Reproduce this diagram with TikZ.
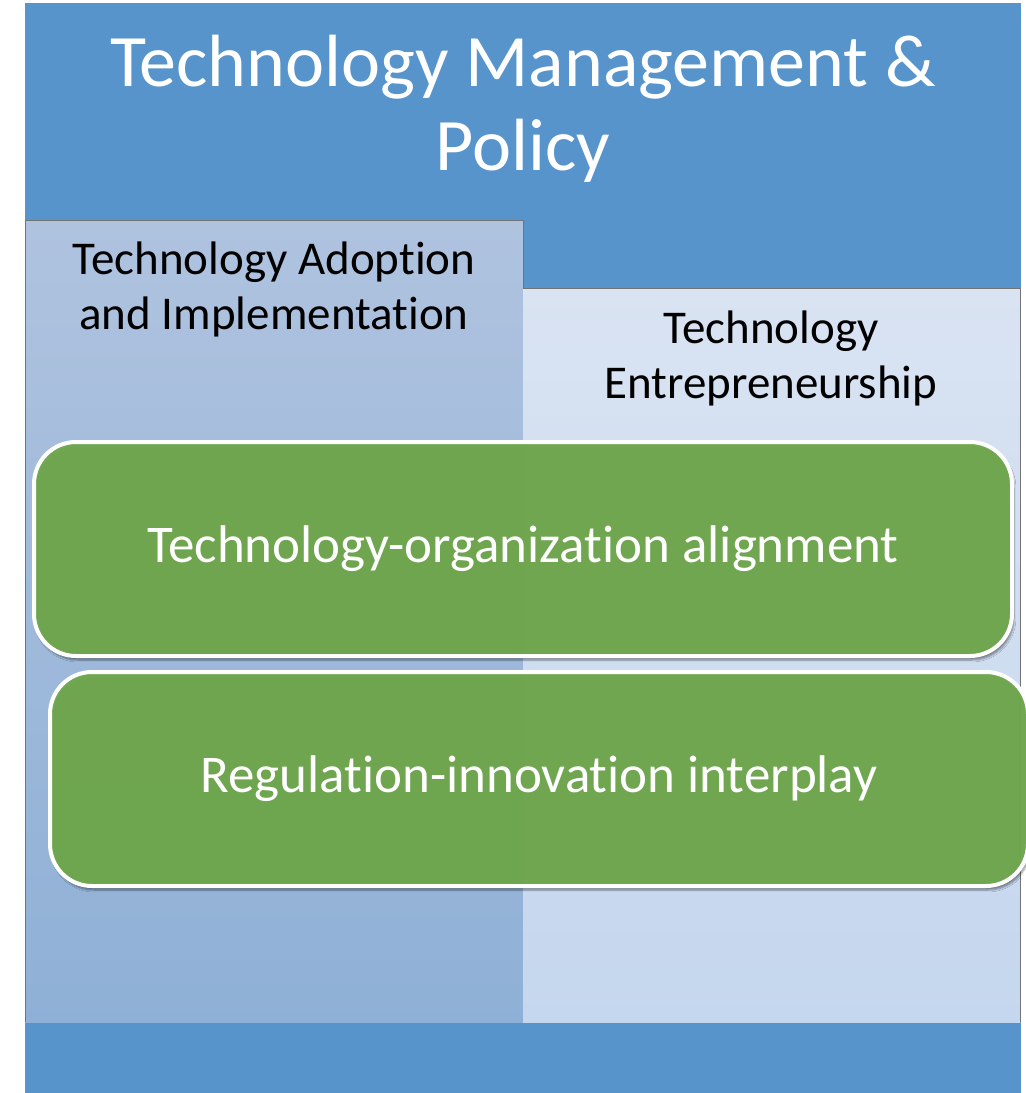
\documentclass[tikz,border=0pt]{standalone}
\usepackage{fontspec}
\setmainfont{Carlito}[RawFeature={-liga,-clig,-dlig,-calt}]
\usetikzlibrary{shadows.blur}
\definecolor{tmblue}{HTML}{5794CB}
\definecolor{adopttop}{HTML}{AFC3DF}
\definecolor{adoptbot}{HTML}{8FB0D6}
\definecolor{entrtop}{HTML}{D9E3F2}
\definecolor{entrbot}{HTML}{C5D7EE}
\definecolor{tmgreen}{HTML}{70A84E}
\begin{document}
\begin{tikzpicture}[x=1pt,y=-1pt,
  panel/.style={draw=black!55,line width=0.8pt},
  bar/.style={draw=white,line width=4pt,fill=tmgreen,fill opacity=0.96,text opacity=1,
    rounded corners=42pt,minimum width=978pt,minimum height=214pt,
    text=white,font=\fontsize{53}{60}\selectfont,
    blur shadow={shadow xshift=2pt,shadow yshift=-4pt,shadow blur steps=6,shadow opacity=45}},
  label/.style={align=center,inner sep=0pt,font=\fontsize{47}{55}\selectfont}]
\useasboundingbox (0,0) rectangle (1026,1093);
\clip (0,0) rectangle (1026,1093);
% outer frame
\fill[tmblue] (25,3) rectangle (1021,1093);
% two columns
\shade[top color=adopttop,bottom color=adoptbot] (25,220) rectangle (523,1022);
\draw[panel] (25,1022) -- (25,220) -- (523,220) -- (523,1022);
\shade[top color=entrtop,bottom color=entrbot] (523,288) rectangle (1020,1022);
\draw[panel] (523,288) -- (1020,288) -- (1020,1022);
% headings (base = last line)
\node[label,anchor=base,text=white,font=\fontsize{74}{84}\selectfont] (title) at (523,170) {Technology Management \&\\Policy};
\node[label,anchor=base] (adopt) at (274,329) {Technology Adoption\\and Implementation};
\node[label,anchor=base] (entre) at (771,398) {Technology\\Entrepreneurship};
% cross-cutting themes
\node[bar] (align) at (523,549) {Technology-organization alignment};
\node[bar] (reg) at (539,779) {Regulation-innovation interplay};
\end{tikzpicture}
\end{document}
